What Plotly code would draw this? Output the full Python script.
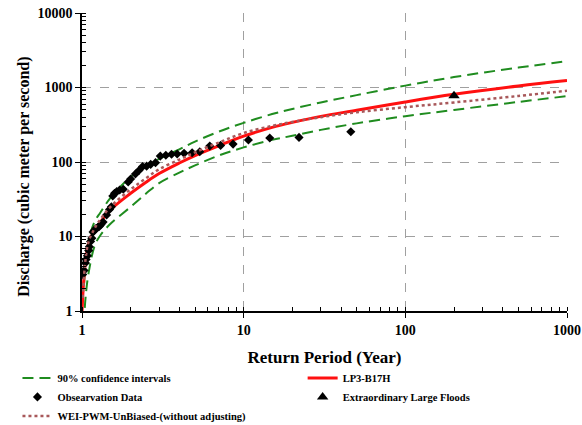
import plotly.graph_objects as go

# Return periods (years) at which the fitted curves are evaluated
curve_T = [1.001, 1.02, 1.05, 1.1, 1.2, 1.3, 1.5, 2, 2.5, 3, 4, 5, 7, 10,
           15, 20, 30, 50, 100, 200, 500, 1000]
# LP3-B17H fitted discharge (m3/s)
lp3_Q = [1.0, 2.2, 4.5, 8.2, 12.2, 15.6, 22.8, 38, 54, 70, 97, 122, 165, 222,
         292, 340, 410, 495, 640, 810, 1050, 1240]

# 90% confidence limits
upper_T = [1.03, 1.05, 1.1, 1.2, 1.3, 1.5, 2, 2.5, 3, 4, 5, 7, 10, 15, 20,
           30, 50, 100, 200, 500, 1000]
upper_Q = [2.3, 4.2, 9.0, 16, 21, 33, 63, 88, 110, 148, 188, 255, 335, 440,
           515, 630, 790, 1060, 1380, 1850, 2250]
lower_T = [1.04, 1.06, 1.1, 1.2, 1.3, 1.5, 2, 2.5, 3, 4, 5, 7, 10, 15, 20,
           30, 50, 100, 200, 500, 1000]
lower_Q = [1.1, 1.8, 3.3, 7.6, 10.4, 14.8, 25, 38, 52, 72, 90, 122, 157, 198,
           225, 270, 330, 412, 500, 640, 765]

# Weibull / PWM unbiased fit (without adjusting)
wei_T = [1.01, 1.05, 1.1, 1.2, 1.3, 1.5, 2, 2.5, 3, 4, 5, 7, 10, 15, 20, 30,
         50, 100, 200, 500, 1000]
wei_Q = [1.5, 4.8, 8.6, 13, 17, 25, 43, 61, 80, 108, 135, 182, 245, 305, 345,
         400, 465, 545, 630, 770, 905]

# Observed annual peaks (plotting position, discharge)
obs_T = [1.01, 1.03, 1.05, 1.06, 1.08, 1.10, 1.11, 1.13, 1.15, 1.17, 1.19,
         1.22, 1.25, 1.28, 1.31, 1.35, 1.42, 1.48, 1.52, 1.55, 1.59, 1.64,
         1.71, 1.80, 1.93, 2.00, 2.14, 2.25, 2.37, 2.51, 2.66, 2.85, 3.05,
         3.30, 3.58, 3.88, 4.28, 4.80, 5.35, 6.17, 7.20, 8.60, 10.7, 14.5,
         22.0, 46.0]
obs_Q = [3.1, 3.5, 4.4, 4.9, 5.5, 6.5, 7.3, 8.6, 9.5, 11.5, 12.0, 12.8, 13.2,
         13.6, 14.5, 15.6, 19.5, 23, 25, 35, 38, 40, 42, 43, 54, 59, 69, 77,
         87, 88, 93, 98, 120, 123, 127, 128, 131, 133, 137, 164, 167, 174,
         197, 210, 214, 255]

# Historical (extraordinary) flood
hist_T = [200]
hist_Q = [772]

GREEN = "#1f8c1f"
RED = "#ff1010"
ROSY = "#a8585a"
FONT = "Liberation Serif"

fig = go.Figure()
fig.add_trace(go.Scatter(x=upper_T, y=upper_Q, mode="lines",
                         name="90% confidence intervals", legend="legend",
                         line=dict(color=GREEN, width=2, dash="11px,6px")))
fig.add_trace(go.Scatter(x=lower_T, y=lower_Q, mode="lines", showlegend=False,
                         line=dict(color=GREEN, width=2, dash="11px,6px")))
fig.add_trace(go.Scatter(x=curve_T, y=lp3_Q, mode="lines", name="LP3-B17H",
                         legend="legend2",
                         line=dict(color=RED, width=3)))
fig.add_trace(go.Scatter(x=obs_T, y=obs_Q, mode="markers",
                         name="Obsearvation Data", legend="legend",
                         marker=dict(symbol="diamond", size=7, color="black")))
fig.add_trace(go.Scatter(x=hist_T, y=hist_Q, mode="markers",
                         name="Extraordinary Large Floods", legend="legend2",
                         marker=dict(symbol="triangle-up", size=10,
                                     color="black")))
fig.add_trace(go.Scatter(x=wei_T, y=wei_Q, mode="lines",
                         name="WEI-PWM-UnBiased-(without adjusting)",
                         legend="legend",
                         line=dict(color=ROSY, width=2.5, dash="dot")))
fig.update_traces(line_shape="spline", selector=dict(mode="lines"))

axis_common = dict(
    type="log", showgrid=True, gridcolor="#a0a0a0", griddash="dash",
    gridwidth=1, showline=True, linecolor="black", linewidth=1.5,
    tickmode="linear", tick0=0, dtick=1, tickformat="d",
    ticks="outside", ticklen=5, tickcolor="black", zeroline=False,
    tickfont=dict(family=FONT, size=14, color="black", weight="bold"),
    # minor ticks at 2..9 within every decade
    minor=dict(dtick="D1", ticks="inside", ticklen=4, tickcolor="black",
               showgrid=False),
)

fig.update_xaxes(range=[0, 3],
                 title=dict(text="Return Period (Year)",
                            font=dict(family=FONT, size=17, color="black",
                                      weight="bold")),
                 **axis_common)
fig.update_yaxes(range=[0, 4], **axis_common)

# vertical axis title, set beside the tick labels
fig.add_annotation(text="Discharge (cubic meter per second)",
                   xref="paper", yref="paper", x=-0.12, y=0.45,
                   xanchor="center", yanchor="middle", textangle=-90,
                   showarrow=False,
                   font=dict(family=FONT, size=16, color="black",
                             weight="bold"))

legend_font = dict(family=FONT, size=10.5, color="black", weight="bold")
fig.update_layout(
    width=582, height=425,
    margin=dict(l=82, r=15, t=13, b=114, autoexpand=False),
    paper_bgcolor="white", plot_bgcolor="white",
    font=dict(family=FONT, color="black"),
    legend=dict(orientation="v", xref="container", yref="container",
                x=0.03, y=0.145, xanchor="left", yanchor="top",
                itemwidth=30, tracegroupgap=0, traceorder="normal",
                font=legend_font, bgcolor="rgba(0,0,0,0)"),
    legend2=dict(orientation="v", xref="container", yref="container",
                 x=0.52, y=0.145, xanchor="left", yanchor="top",
                 itemwidth=30, tracegroupgap=0, traceorder="normal",
                 font=legend_font, bgcolor="rgba(0,0,0,0)"),
)

fig.write_html("out.html")
